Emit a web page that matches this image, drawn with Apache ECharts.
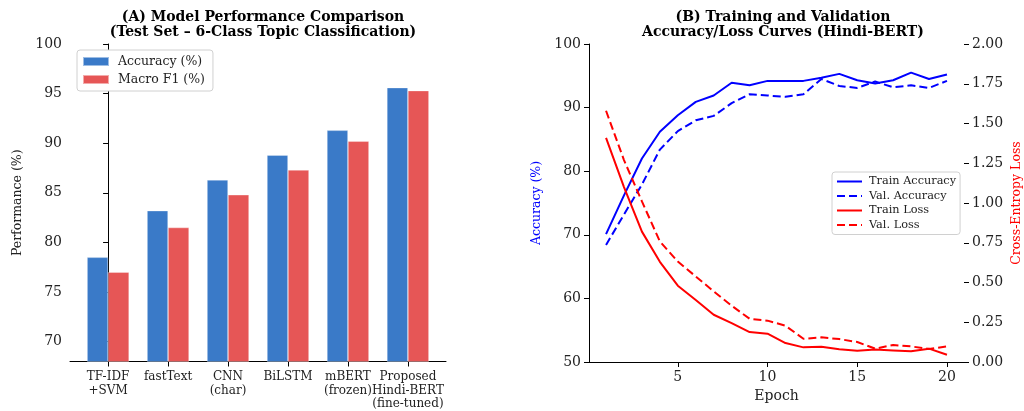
<!DOCTYPE html>
<html><head><meta charset="utf-8">
<script src="https://cdn.jsdelivr.net/npm/echarts@6/dist/echarts.min.js"></script>
<style>html,body{margin:0;padding:0;background:#fff}#c{width:1024px;height:411px}</style>
</head><body><div id="c"></div>
<script>
// ---- Panel A data ----
const models = ['TF-IDF\n+SVM', 'fastText', 'CNN\n(char)', 'BiLSTM', 'mBERT\n(frozen)', 'Proposed\nHindi-BERT\n(fine-tuned)'];
const accuracy = [78.5, 83.2, 86.3, 88.8, 91.3, 95.6];
const macroF1 = [77.0, 81.5, 84.8, 87.3, 90.2, 95.3];
const perfTicks = [70, 75, 80, 85, 90, 95, 100];
// ---- Panel B data ----
const epochs = [1,2,3,4,5,6,7,8,9,10,11,12,13,14,15,16,17,18,19,20];
const trainAcc = [70.1, 76.2, 82.0, 86.2, 88.8, 90.9, 91.9, 93.9, 93.5, 94.2, 94.2, 94.2, 94.7, 95.3, 94.3, 93.8, 94.3, 95.5, 94.5, 95.2];
const valAcc = [68.4, 73.2, 77.9, 83.4, 86.3, 88.0, 88.7, 90.7, 92.1, 91.9, 91.7, 92.1, 94.5, 93.4, 93.1, 94.1, 93.2, 93.5, 93.1, 94.2];
const trainLoss = [1.41, 1.10, 0.82, 0.63, 0.48, 0.39, 0.297, 0.245, 0.188, 0.178, 0.119, 0.092, 0.096, 0.080, 0.071, 0.079, 0.073, 0.067, 0.084, 0.046];
const valLoss = [1.58, 1.27, 1.01, 0.758, 0.632, 0.538, 0.444, 0.354, 0.272, 0.260, 0.228, 0.146, 0.155, 0.144, 0.126, 0.084, 0.107, 0.098, 0.082, 0.098];
const epochTicks = [5, 10, 15, 20];

const F = 'DejaVu Serif';
const blue = '#3a7ac8', red = '#e65656';
const chart = echarts.init(document.getElementById('c'));
const axisLine = {show: true, lineStyle: {color: '#000', width: 1}};
const axisTick = {show: true, length: 5, lineStyle: {color: '#000'}};

chart.setOption({
  animation: false,
  textStyle: {fontFamily: F},
  title: [
    {text: '(A) Model Performance Comparison\n(Test Set – 6-Class Topic Classification)', left: 258, top: 5, textAlign: 'center',
     textStyle: {fontFamily: F, fontWeight: 'bold', fontSize: 14, lineHeight: 15, color: '#000'}},
    {text: '(B) Training and Validation\nAccuracy/Loss Curves (Hindi-BERT)', left: 778, top: 5, textAlign: 'center',
     textStyle: {fontFamily: F, fontWeight: 'bold', fontSize: 14, lineHeight: 15, color: '#000'}}
  ],
  grid: [
    {left: 70, width: 376, top: 44, bottom: 49},
    {left: 589, width: 378, top: 44, bottom: 49}
  ],
  legend: [
    {data: ['Accuracy (%)', 'Macro F1 (%)'], orient: 'vertical', left: 77, top: 50, icon: 'rect',
     itemWidth: 26, itemHeight: 9, itemGap: 5, padding: [5, 8, 5, 5],
     backgroundColor: '#fff', borderColor: '#d0d0d0', borderWidth: 1, borderRadius: 3,
     textStyle: {fontFamily: F, fontSize: 12.5, color: '#222', padding: [0, 0, 0, 4]}},
    {data: ['Train Accuracy', 'Val. Accuracy', 'Train Loss', 'Val. Loss'], orient: 'vertical', left: 832, top: 172,
     itemWidth: 25, itemHeight: 10, itemGap: 3.5, padding: [4, 4, 4, 4],
     itemStyle: {opacity: 0},
     backgroundColor: '#fff', borderColor: '#d0d0d0', borderWidth: 1, borderRadius: 3,
     textStyle: {fontFamily: F, fontSize: 11.3, color: '#222', padding: [0, 0, 0, 2]}}
  ],
  xAxis: [
    {gridIndex: 0, type: 'value', min: -0.635, max: 5.635, splitLine: {show: false},
     axisLine: axisLine, axisTick: Object.assign({customValues: [0,1,2,3,4,5]}, axisTick),
     axisLabel: {customValues: [0,1,2,3,4,5], formatter: v => models[Math.round(v)], fontFamily: F, fontSize: 12, lineHeight: 13.5, color: '#222', margin: 9}},
    {gridIndex: 1, type: 'value', min: 0.05, max: 20.95, splitLine: {show: false},
     name: 'Epoch', nameLocation: 'middle', nameGap: 26, nameTextStyle: {fontFamily: F, fontSize: 14, color: '#222'},
     axisLine: axisLine, axisTick: Object.assign({customValues: epochTicks}, axisTick),
     axisLabel: {customValues: epochTicks, fontFamily: F, fontSize: 14, color: '#222', margin: 8}}
  ],
  yAxis: [
    {gridIndex: 0, type: 'value', min: 68, max: 100, splitLine: {show: false},
     name: 'Performance (%)', nameLocation: 'middle', nameRotate: 90, nameGap: 46, nameTextStyle: {fontFamily: F, fontSize: 12.5, color: '#222'},
     axisLine: axisLine, axisTick: Object.assign({customValues: perfTicks}, axisTick),
     axisLabel: {customValues: perfTicks, fontFamily: F, fontSize: 14, color: '#222', margin: 8}},
    {gridIndex: 1, type: 'value', min: 50, max: 100, interval: 10, splitLine: {show: false},
     name: 'Accuracy (%)', nameLocation: 'middle', nameRotate: 90, nameGap: 46, nameTextStyle: {fontFamily: F, fontSize: 12.5, color: '#0000ff'},
     axisLine: axisLine, axisTick: axisTick,
     axisLabel: {fontFamily: F, fontSize: 14, color: '#222', margin: 8}},
    {gridIndex: 1, type: 'value', position: 'right', min: 0, max: 2, interval: 0.25, splitLine: {show: false},
     name: 'Cross-Entropy Loss', nameLocation: 'middle', nameRotate: 90, nameGap: 46, nameTextStyle: {fontFamily: F, fontSize: 12.5, color: '#ff0000'},
     axisLine: {show: false}, axisTick: axisTick,
     axisLabel: {fontFamily: F, fontSize: 14, color: '#222', margin: 8, formatter: v => v.toFixed(2)}}
  ],
  series: [
    {name: 'Accuracy (%)', type: 'bar', xAxisIndex: 0, yAxisIndex: 0, barWidth: 21, barGap: '0%',
     itemStyle: {color: blue, borderColor: 'rgba(255,255,255,0.5)', borderWidth: 0.6},
     data: accuracy.map((v, i) => [i, v])},
    {name: 'Macro F1 (%)', type: 'bar', xAxisIndex: 0, yAxisIndex: 0, barWidth: 21, barGap: '0%',
     itemStyle: {color: red, borderColor: 'rgba(255,255,255,0.5)', borderWidth: 0.6},
     data: macroF1.map((v, i) => [i, v])},
    {name: 'Train Accuracy', type: 'line', xAxisIndex: 1, yAxisIndex: 1, symbol: 'none', showSymbol: false,
     lineStyle: {color: '#0000ff', width: 2}, itemStyle: {color: '#0000ff'},
     data: epochs.map((e, i) => [e, trainAcc[i]])},
    {name: 'Val. Accuracy', type: 'line', xAxisIndex: 1, yAxisIndex: 1, symbol: 'none', showSymbol: false,
     lineStyle: {color: '#0000ff', width: 2, type: [8, 4]}, itemStyle: {color: '#0000ff'},
     data: epochs.map((e, i) => [e, valAcc[i]])},
    {name: 'Train Loss', type: 'line', xAxisIndex: 1, yAxisIndex: 2, symbol: 'none', showSymbol: false,
     lineStyle: {color: '#ff0000', width: 2}, itemStyle: {color: '#ff0000'},
     data: epochs.map((e, i) => [e, trainLoss[i]])},
    {name: 'Val. Loss', type: 'line', xAxisIndex: 1, yAxisIndex: 2, symbol: 'none', showSymbol: false,
     lineStyle: {color: '#ff0000', width: 2, type: [8, 4]}, itemStyle: {color: '#ff0000'},
     data: epochs.map((e, i) => [e, valLoss[i]])}
  ]
});
</script></body></html>
